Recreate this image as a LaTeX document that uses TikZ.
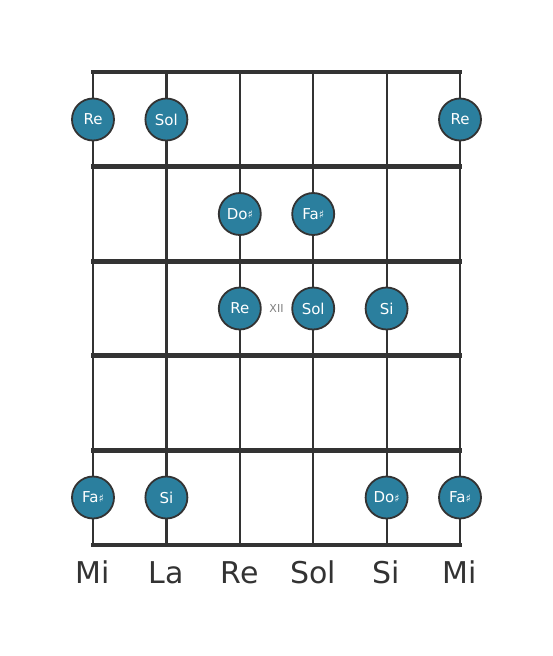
\documentclass[tikz,border=0pt]{standalone}
\usepackage{fontspec}
\setmainfont{DejaVu Sans}
\usepackage{xcolor}
\definecolor{griffgrau}{HTML}{333333}
\definecolor{notenblau}{HTML}{2B7F9E}
\usetikzlibrary{positioning}

\newcommand{\kreuz}{{\fontsize{11}{11}\selectfont\raisebox{0.5pt}{♯}}}

\tikzset{
    note/.style={circle,draw=griffgrau,line width=1.8pt,fill=notenblau,
        minimum size=42pt,inner sep=0pt,text=white,font=\fontsize{15}{15}\selectfont},
    saite/.style={draw=griffgrau,line width=2.2pt},
    bund/.style={draw=griffgrau,line width=4.8pt},
    stimmung/.style={text=griffgrau,font=\fontsize{30}{30}\selectfont,anchor=base}
}

\begin{document}
\begin{tikzpicture}[x=1pt,y=-1pt]
    \useasboundingbox (0,0) rectangle (553,656);

    % saiten und buende
    \foreach \s in {0,...,5}
        \draw[saite] (93+73.4*\s,72) -- (93+73.4*\s,545);
    \foreach \b in {0,...,5}
        \draw[bund] (91,72+94.6*\b) -- (462,72+94.6*\b);

    % stimmung
    \foreach \n [count=\s from 0] in {Mi,La,Re,Sol,Si,Mi}
        \node[stimmung] (t\s) at (93+73.4*\s,583) {\n};

    % toene
    \node[note] (r1) at (93,119.5) {Re};
    \node[note] (g1) at (166.4,119.5) {Sol};
    \node[note] (r2) at (460,119.5) {Re};
    \node[note] (c1) at (239.8,214) {Do\kreuz};
    \node[note] (f1) at (313.2,214) {Fa\kreuz};
    \node[note] (r3) at (239.8,308.5) {Re};
    \node[note] (g2) at (313.2,308.5) {Sol};
    \node[note] (h1) at (386.6,308.5) {Si};
    \node[note] (f2) at (93,497.5) {Fa\kreuz};
    \node[note] (h2) at (166.4,497.5) {Si};
    \node[note] (c2) at (386.6,497.5) {Do\kreuz};
    \node[note] (f3) at (460,497.5) {Fa\kreuz};

    \node[text=gray,font=\fontsize{11}{11}\selectfont] (xii) at (276.5,308.5) {XII};
\end{tikzpicture}
\end{document}
